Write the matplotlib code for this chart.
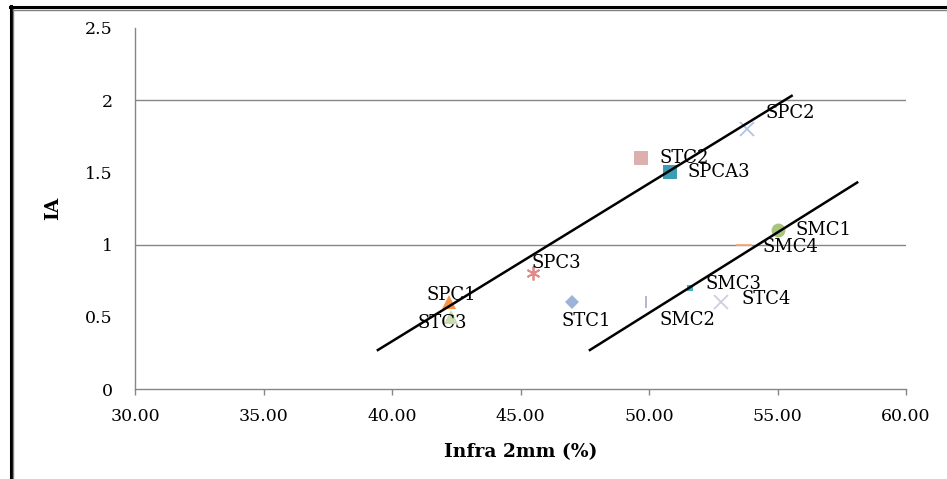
import matplotlib
matplotlib.use("Agg")
import matplotlib.pyplot as plt
from matplotlib.lines import Line2D

# ---- data ----
names = ["SPC1", "STC3", "SPC3", "STC1", "SMC2", "STC2", "SPCA3", "SPC2", "SMC1", "SMC4", "SMC3", "STC4"]
infra = [42.2, 42.3, 45.5, 47.0, 49.9, 49.7, 50.8, 53.8, 55.0, 53.7, 51.6, 52.8]
ia = [0.6, 0.5, 0.8, 0.6, 0.6, 1.6, 1.5, 1.8, 1.1, 1.0, 0.7, 0.6]
markers = ["^", "^", (6, 2, 0), "D", "|", "s", "s", "x", "o", "_", "s", "x"]
colors = ["#F79646", "#C9DDB0", "#E08A8A", "#9DB4D8", "#B8AACC", "#DDB0B0",
          "#3A9DB5", "#B0C4E4", "#A8C47E", "#F8A878", "#4BACC6", "#D0CCE0"]
sizes = [10, 10, 10, 7, 9, 10, 10, 10, 10, 12, 4, 10]
label_offsets = [(-22, 7), (-34, -6), (-2, 10), (-10, -19), (13, -18), (18, 0),
                 (18, 0), (19, 16), (18, 0), (18, -2), (15, 4), (21, 3)]

line1_x = [39.45, 55.55]
line1_y = [0.27, 2.03]
line2_x = [47.7, 58.1]
line2_y = [0.27, 1.43]

x_ticks = [30, 35, 40, 45, 50, 55, 60]
y_ticks = [0, 0.5, 1, 1.5, 2, 2.5]
y_tick_labels = ["0", "0.5", "1", "1.5", "2", "2.5"]
grid_levels = [1, 2]

plt.rcParams['font.family'] = ['DejaVu Serif']

W, H = 947, 479
fig = plt.figure(figsize=(W / 100, H / 100), dpi=100)
ax = fig.add_axes([135 / W, 1 - 389 / H, (906 - 135) / W, (389 - 28) / H])

grey = "#868686"
for g in grid_levels:
    ax.axhline(g, color=grey, lw=1.0, zorder=0)

for xi, yi, m, c, s in zip(infra, ia, markers, colors, sizes):
    if m in ("x", "|", "_") or isinstance(m, tuple):
        ax.plot([xi], [yi], marker=m, color=c, markersize=s, markeredgewidth=1.3,
                linestyle="none", zorder=3)
    else:
        ax.plot([xi], [yi], marker=m, color=c, markersize=s, markeredgewidth=0,
                linestyle="none", zorder=3)

for n, xi, yi, off in zip(names, infra, ia, label_offsets):
    ax.annotate(n, (xi, yi), xytext=off, textcoords="offset pixels",
                ha="left", va="center", fontsize=13, color="black", zorder=5)

ax.plot(line1_x, line1_y, color="black", lw=1.8, zorder=4)
ax.plot(line2_x, line2_y, color="black", lw=1.8, zorder=4)

ax.set_xlim(30, 60)
ax.set_ylim(0, 2.5)
ax.set_xticks(x_ticks)
ax.set_xticklabels([f"{v:.2f}" for v in x_ticks])
ax.set_yticks(y_ticks)
ax.set_yticklabels(y_tick_labels)
ax.set_yticks([0, 1, 2], minor=True)
ax.tick_params(axis="y", which="major", length=0, pad=16, labelsize=12.5)
ax.tick_params(axis="y", which="minor", length=6, width=1, color=grey, direction="out")
ax.tick_params(axis="x", which="major", length=4, width=1, color=grey, direction="out",
               pad=10, labelsize=12.5)
ax.xaxis.set_minor_locator(plt.NullLocator())

for sp in ("top", "right"):
    ax.spines[sp].set_visible(False)
for sp in ("left", "bottom"):
    ax.spines[sp].set_color(grey)
    ax.spines[sp].set_linewidth(1.0)

ax.set_xlabel("Infra 2mm (%)", fontsize=13.5, fontweight="bold")
ax.xaxis.set_label_coords(0.5, (389 - 443) / (389 - 28))
ax.xaxis.label.set_va("top")
ax.set_ylabel("IA", fontsize=13.5, fontweight="bold")
ax.yaxis.set_label_coords((62 - 135) / (906 - 135), 0.5)

# outer frame (left and top double border)
fig.add_artist(Line2D([10.5 / W, 10.5 / W], [0, 1 - 6 / H], transform=fig.transFigure,
                      color="black", lw=2.2))
fig.add_artist(Line2D([13 / W, 13 / W], [0, 1 - 9 / H], transform=fig.transFigure,
                      color="#808080", lw=1.0))
fig.add_artist(Line2D([10 / W, 1], [1 - 7 / H, 1 - 7 / H], transform=fig.transFigure,
                      color="black", lw=2.2))
fig.add_artist(Line2D([13 / W, 1], [1 - 9.5 / H, 1 - 9.5 / H], transform=fig.transFigure,
                      color="#808080", lw=1.0))

fig.savefig("out.png", dpi=100)
